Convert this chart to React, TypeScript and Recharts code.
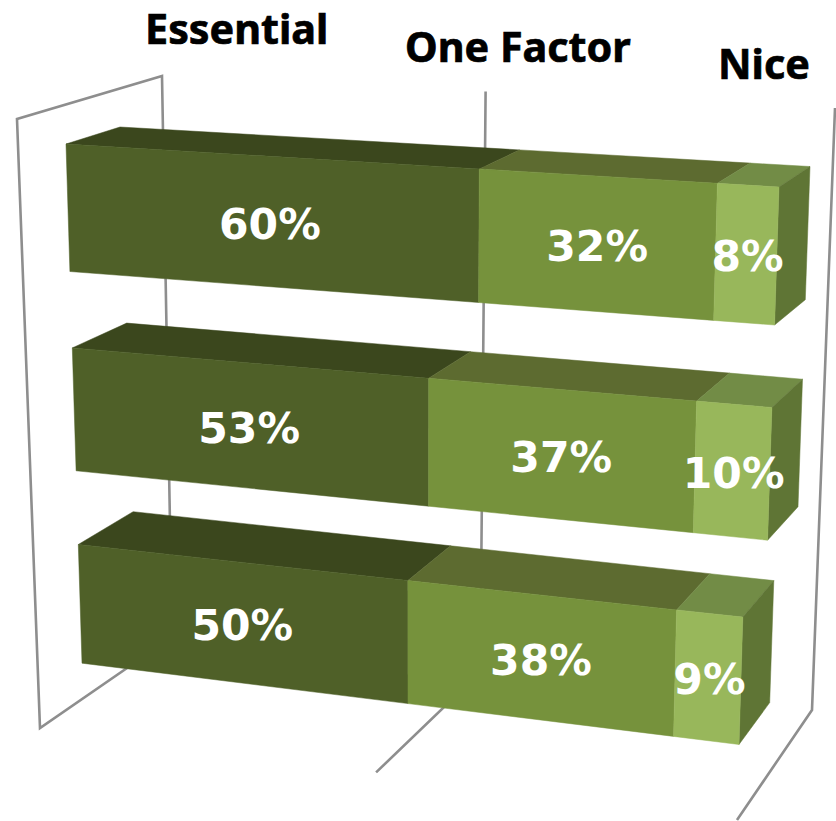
import React from "react";
import { BarChart, Bar, XAxis, YAxis, CartesianGrid, LabelList, Customized } from "recharts";

// Survey responses per group, in percent
const groups = ["Group A", "Group B", "Group C"];
const essential = [60, 53, 50];
const oneFactor = [32, 37, 38];
const nice = [8, 10, 9];
const seriesNames = ["Essential", "One Factor", "Nice"];
const axisTicks = [0, 50, 100];

const rows = groups.map((group, i) => ({
  group,
  essential: essential[i],
  oneFactor: oneFactor[i],
  nice: nice[i],
}));

const W = 836;
const H = 821;
const CATEGORY_GAP = 0.19;

type Pt = [number, number];

// Projective map from the unit square onto a quad (TL, TR, BR, BL)
function quadMap(q: Pt[]) {
  const [[x0, y0], [x1, y1], [x2, y2], [x3, y3]] = q;
  const dx1 = x1 - x2, dx2 = x3 - x2, sx = x0 - x1 + x2 - x3;
  const dy1 = y1 - y2, dy2 = y3 - y2, sy = y0 - y1 + y2 - y3;
  const den = dx1 * dy2 - dx2 * dy1;
  const g = (sx * dy2 - dx2 * sy) / den;
  const h = (dx1 * sy - sx * dy1) / den;
  const a = x1 - x0 + g * x1, b = x3 - x0 + h * x3;
  const d = y1 - y0 + g * y1, e = y3 - y0 + h * y3;
  return (s: number, t: number): Pt => {
    const w = g * s + h * t + 1;
    return [(a * s + b * t + x0) / w, (d * s + e * t + y0) / w];
  };
}

// The bars occupy this vertical span of the flat plot area
const band = H / groups.length;
const barsTop = band * CATEGORY_GAP;
const barsBottom = H - band * CATEGORY_GAP;

const frontPlane = quadMap([[66, 144], [779, 187], [761, 747], [82, 663]]);
const backPlane = quadMap([[120, 127], [810, 166.5], [791, 705], [137, 625]]);
const wallBack = quadMap([[162, 76], [835, 108], [812, 710], [172, 637]]);
const wallFront = quadMap([[17, 119], [770, 170], [737, 820], [40, 728]]);

const norm = (x: number, y: number): [number, number] => [x / W, (y - barsTop) / (barsBottom - barsTop)];
const front = (x: number, y: number) => frontPlane(...norm(x, y));
const back = (x: number, y: number) => backPlane(...norm(x, y));

const poly = (pts: Pt[]) => pts.map((p) => `${p[0].toFixed(1)},${p[1].toFixed(1)}`).join(" ");

const faces = [
  { front: "#4f6028", top: "#3b471d" },
  { front: "#76923c", top: "#5d6b30" },
  { front: "#98b75b", top: "#728c46" },
];
const SIDE_COLOR = "#5f7535";
const LINE_COLOR = "#8e8e8e";

const Box = (props: any, series: number, last: boolean) => {
  const { x, y, width, height } = props;
  const c = faces[series];
  const l = x, r = x + width, t = y, b = y + height;
  return (
    <g>
      <polygon points={poly([front(l, t), front(r, t), back(r, t), back(l, t)])} fill={c.top} stroke={c.top} strokeWidth={0.5} />
      {last && <polygon points={poly([front(r, t), back(r, t), back(r, b), front(r, b)])} fill={SIDE_COLOR} stroke={SIDE_COLOR} strokeWidth={0.5} />}
      <polygon points={poly([front(l, t), front(r, t), front(r, b), front(l, b)])} fill={c.front} stroke={c.front} strokeWidth={0.5} />
    </g>
  );
};

const valueLabel = (props: any) => {
  const { x, y, width, height, value } = props;
  const [cx, cy] = front(x + width / 2, y + height / 2);
  return (
    <text
      x={cx + 1.5}
      y={cy + 17}
      textAnchor="middle"
      fill="#ffffff"
      fontFamily="'DejaVu Sans', sans-serif"
      fontWeight={700}
      fontSize={42.5}
    >
      {value}%
    </text>
  );
};

// Each vertical gridline runs down the back wall and then forward across the floor
const gridLine = (props: any) => {
  const { x1, index } = props;
  const s = x1 / W;
  const top = wallBack(s, 0);
  const bottom = wallBack(s, 1);
  const floor = wallFront(s, 1);
  // The zero line also closes the left side wall
  const pts = s === 0 ? [bottom, floor, wallFront(0, 0), top, bottom] : [top, bottom, floor];
  return (
    <polyline
      key={`wall-${index}`}
      points={poly(pts)}
      fill="none"
      stroke={LINE_COLOR}
      strokeWidth={2.6}
      strokeLinejoin="miter"
    />
  );
};

const headerSpots = [
  { x: 145, y: 44 },
  { x: 405, y: 62 },
  { x: 718, y: 79 },
];

const Headers = () => (
  <g>
    {seriesNames.map((name, i) => (
      <text
        key={name}
        x={headerSpots[i].x}
        y={headerSpots[i].y}
        fill="#000000"
        stroke="#000000"
        strokeWidth={0.7}
        fontFamily="'Noto Sans', sans-serif"
        fontWeight={700}
        fontSize={41.3}
      >
        {name}
      </text>
    ))}
  </g>
);

export default function App() {
  return (
    <div style={{ position: "absolute", left: 0, top: 0 }}>
      <BarChart
        width={W}
        height={H}
        data={rows}
        layout="vertical"
        margin={{ top: 0, right: 0, bottom: 0, left: 0 }}
        barCategoryGap={`${CATEGORY_GAP * 100}%`}
      >
        <XAxis type="number" domain={[0, 100]} ticks={axisTicks} hide />
        <YAxis type="category" dataKey="group" hide />
        <CartesianGrid horizontal={false} vertical={gridLine} />
        <Bar dataKey="essential" stackId="a" isAnimationActive={false} shape={(p: any) => Box(p, 0, false)}>
          <LabelList dataKey="essential" content={valueLabel} />
        </Bar>
        <Bar dataKey="oneFactor" stackId="a" isAnimationActive={false} shape={(p: any) => Box(p, 1, false)}>
          <LabelList dataKey="oneFactor" content={valueLabel} />
        </Bar>
        <Bar dataKey="nice" stackId="a" isAnimationActive={false} shape={(p: any) => Box(p, 2, true)}>
          <LabelList dataKey="nice" content={valueLabel} />
        </Bar>
        <Customized component={Headers} />
      </BarChart>
    </div>
  );
}
